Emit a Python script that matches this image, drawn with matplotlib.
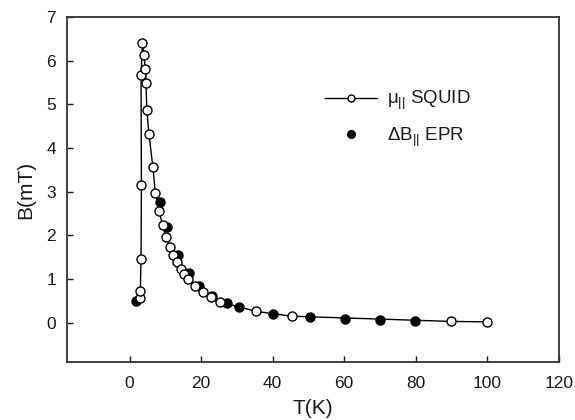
import matplotlib
matplotlib.use("Agg")
import matplotlib.pyplot as plt
from matplotlib.lines import Line2D

plt.rcParams['font.family'] = ['Liberation Sans', 'DejaVu Sans']
plt.rcParams['mathtext.fontset'] = 'custom'
plt.rcParams['mathtext.rm'] = 'Liberation Sans'
plt.rcParams['mathtext.it'] = 'Liberation Sans'

# SQUID data (open circles, connected)
squid_T = [2.9, 3.0, 3.2, 3.3, 3.2, 3.6, 4.1, 4.3, 4.6, 4.8, 5.4, 6.5, 7.2, 8.3, 9.2,
           10.1, 11.2, 12.2, 13.2, 14.3, 15.3, 16.4, 18.3, 20.5, 22.8, 25.3, 35.3,
           45.3, 89.8, 100.0]
squid_B = [0.56, 0.73, 1.47, 3.16, 5.68, 6.41, 6.12, 5.82, 5.50, 4.88, 4.33, 3.57, 2.98,
           2.55, 2.23, 1.97, 1.74, 1.55, 1.38, 1.24, 1.11, 1.00, 0.85, 0.71, 0.60, 0.48,
           0.26, 0.15, 0.03, 0.02]

# EPR data (filled circles)
epr_T = [1.8, 8.4, 10.5, 13.4, 16.5, 19.5, 23.1, 27.3, 30.5, 40.2, 50.3, 60.2, 70.0, 79.9]
epr_B = [0.50, 2.77, 2.20, 1.54, 1.15, 0.85, 0.62, 0.46, 0.35, 0.19, 0.12, 0.08, 0.06, 0.04]

xticks = [0, 20, 40, 60, 80, 100, 120]
yticks = [0, 1, 2, 3, 4, 5, 6, 7]

fig = plt.figure(figsize=(5.75, 4.2), dpi=100)
ax = fig.add_axes([0.1165, 0.138, 0.8555, 0.8215])

dark = '#1a1a1a'
ax.plot(epr_T, epr_B, 'o', color='black', markersize=6.5, zorder=2)
ax.plot(squid_T, squid_B, '-o', color='black', lw=1.0, markersize=6.5,
        markerfacecolor='white', markeredgecolor='black', markeredgewidth=1.0, zorder=3)

ax.set_xlim(-17.5, 120)
ax.set_ylim(-0.9, 7)
ax.set_xticks(xticks)
ax.set_yticks(yticks)
ax.tick_params(direction='in', length=4, width=1, labelsize=12.5, colors=dark)
ax.tick_params(axis='x', pad=10)
ax.tick_params(axis='y', pad=8)
for s in ax.spines.values():
    s.set_linewidth(1.3)
    s.set_color('#333333')

ax.set_xlabel('T(K)', fontsize=15, color=dark, labelpad=6)
ax.set_ylabel('B(mT)', fontsize=15, color=dark, labelpad=8)

h1 = Line2D([], [], color='black', lw=1.0, marker='o', markersize=5,
            markerfacecolor='white', markeredgecolor='black')
h2 = Line2D([], [], color='black', lw=0, marker='o', markersize=5.5)
ax.legend([h1, h2], [r'$\mu_{||}$ SQUID', r'$\Delta$B$_{||}$ EPR'],
          loc='upper left', bbox_to_anchor=(0.49, 0.84), frameon=False,
          fontsize=13.5, handlelength=2.8, handletextpad=0.5, labelspacing=0.7,
          labelcolor=dark)

fig.savefig('out.png', dpi=100)
